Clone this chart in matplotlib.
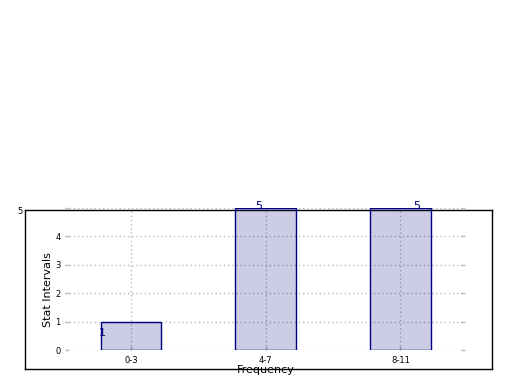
import matplotlib
matplotlib.use("Agg")
import matplotlib.pyplot as plt

# data
categories = ['0-3', '4-7', '8-11']
counts = [1, 5, 5]
label_dx = [-0.21, -0.05, 0.12]
label_y = [0.6, 5.07, 5.07]

W, H = 520, 390
fig = plt.figure(figsize=(W / 100, H / 100), dpi=100)

# frame box (drawn behind)
frame = fig.add_axes([25 / W, (H - 369) / H, 467 / W, 159 / H])
frame.set_xticks([])
frame.set_yticks([])
for s in frame.spines.values():
    s.set_color('black')
    s.set_linewidth(1.0)
frame.set_zorder(0)

# data area
ax = fig.add_axes([65 / W, (H - 350) / H, 400 / W, 142 / H])
ax.set_zorder(1)
ax.patch.set_alpha(0)
for s in ax.spines.values():
    s.set_visible(False)

xs = list(range(len(categories)))
ax.bar(xs, counts, width=0.45, color='navy', alpha=0.2, zorder=2)
ax.bar(xs, counts, width=0.45, fill=False, edgecolor='navy', linewidth=1, zorder=3)

for x, dx, y, c in zip(xs, label_dx, label_y, counts):
    ax.text(x + dx, y, str(c), color='navy', fontsize=8, ha='center', va='center',
            clip_on=False)

ax.set_xlim(-0.49, 2.48)
ax.set_ylim(0, 5)
ax.set_xticks(xs)
ax.set_xticklabels(categories, fontsize=6)
ax.set_yticks([0, 1, 2, 3, 4, 5])
ax.set_yticklabels(['0', '1', '2', '3', '4', ''], fontsize=6)
ax.tick_params(axis='both', direction='in', color='#bbbbbb', length=3, width=1,
               right=True, pad=3)
ax.tick_params(axis='x', pad=4)
ax.grid(True, linestyle=(0, (1, 2)), color='#b8b8b8', linewidth=1, zorder=1)
ax.set_axisbelow(True)

fig.text(20 / W, (H - 211) / H, '5', fontsize=6, ha='center', va='center')
fig.text(48 / W, (H - 290) / H, 'Stat Intervals', fontsize=8, rotation=90,
         ha='center', va='center')
fig.text(266 / W, (H - 370) / H, 'Frequency', fontsize=8, ha='center', va='center')

fig.savefig('out.png', dpi=100)
